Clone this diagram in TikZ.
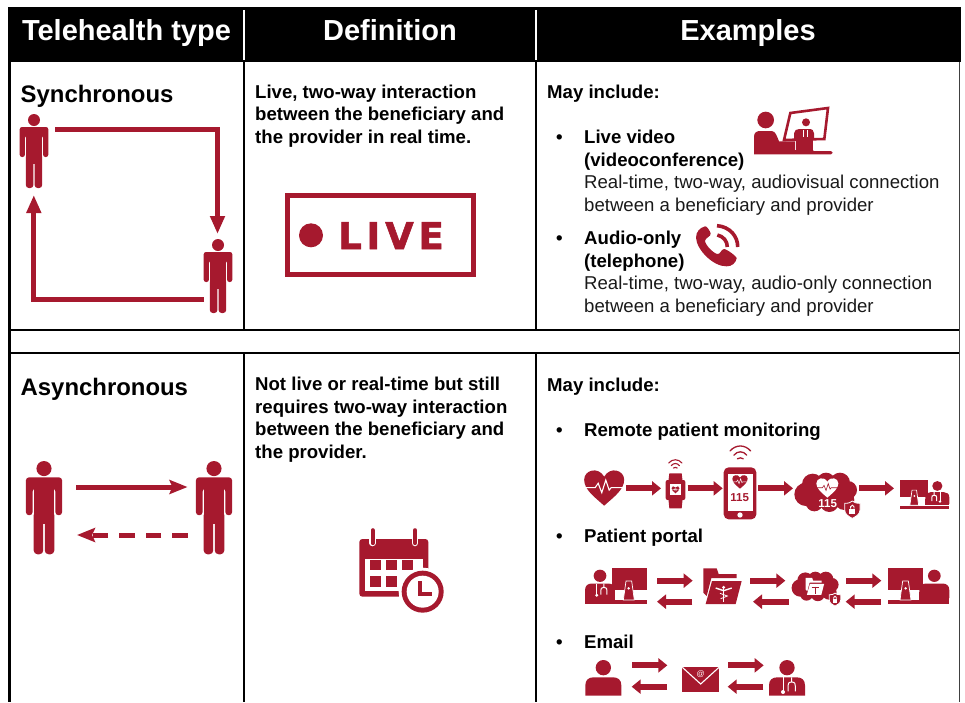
\documentclass[tikz,border=0pt]{standalone}
\usepackage{fontspec}
\setmainfont{Liberation Sans}
\newfontfamily\livefont[LetterSpace=13,FakeBold=1.5]{DejaVu Sans Bold}
\usetikzlibrary{arrows.meta}
\definecolor{rcol}{HTML}{A6192E}
\tikzset{
 gridline/.style={draw=black,line width=2.6pt},
 headtxt/.style={font=\fontsize{29}{32}\selectfont\bfseries,text=white,inner sep=0pt,anchor=base},
 titletxt/.style={font=\fontsize{23.9}{28}\selectfont\bfseries,inner sep=0pt,anchor=base west},
 boldtxt/.style={font=\fontsize{18.6}{22.5}\selectfont\bfseries,inner sep=0pt,anchor=base west,align=left},
 bodytxt/.style={font=\fontsize{18.6}{22.5}\selectfont,inner sep=0pt,anchor=base west,align=left,text=black!90},
 bigline/.style={draw=rcol,line width=5pt},
 bighead/.style={-{Triangle[width=14pt,length=18pt]}},
 chain/.style={draw=rcol,line width=6pt,-{Triangle[width=14pt,length=9pt]}},
 zm/.style 2 args={shift={(#1pt,-#2pt)},x=0.33333pt,y=-0.33333pt},
}
% full figure: s = scale, top of head at (#1,#2)
\newcommand\personfig[3]{\begin{scope}[shift={(#1pt,-#2pt)},x=#3pt,y=-#3pt]
 \fill[rcol] (0,6) circle[radius=6];
 \fill[rcol,rounded corners=#3*2.3pt] (-14.3,43)--(-14.3,13)--(14.3,13)--(14.3,43)--(9.1,43)--(9.1,22)--(-9.1,22)--(-9.1,43)--cycle;
 \fill[rcol] (-8.2,15) rectangle (8.2,50);
 \fill[rcol,rounded corners=#3*3pt] (-8.2,40)--(-8.2,74)--(-0.6,74)--(-0.6,40)--cycle;
 \fill[rcol,rounded corners=#3*3pt] (8.2,40)--(8.2,74)--(0.6,74)--(0.6,40)--cycle;
\end{scope}}
% heart, unit half-width
\newcommand\hrtpath{(0,1) .. controls (-.5,.55) and (-1,.2) .. (-1,-.3) .. controls (-1,-.78) and (-.3,-.98) .. (0,-.45) .. controls (.3,-.98) and (1,-.78) .. (1,-.3) .. controls (1,.2) and (.5,.55) .. (0,1) -- cycle}
\newcommand\hrt[4]{\fill[#4,shift={(#1,#2)},scale=#3] \hrtpath;}
\newcommand\ecg[4]{\draw[#4,shift={(#1,#2)},scale=#3,line join=miter] (-1,.1)--(-.45,.1)--(-.3,-.12)--(-.12,.35)--(.08,-.28)--(.25,.22)--(.35,.1)--(1,.1);}
% wifi: bottom centre
\newcommand\wifi[5]{\begin{scope}[shift={(#1,#2)},scale=#3]
 \draw[rcol,line width=#4pt,line cap=round] (-1,-.45) .. controls (-.45,-1.1) and (.45,-1.1) .. (1,-.45);
 \draw[rcol,line width=#4pt,line cap=round] (-.62,-.05) .. controls (-.3,-.48) and (.3,-.48) .. (.62,-.05);
 \draw[rcol,line width=#5pt,line cap=round] (-.28,.3) .. controls (-.1,.18) and (.1,.18) .. (.28,.3);
\end{scope}}
% bust: origin at top centre, 108 wide 107 high in zoom units
\newcommand\bustfig{\fill[rcol] (0,23) circle[radius=23];
 \fill[rcol] (-54,107) -- (-54,76) .. controls (-54,60) and (-44,52) .. (-30,52) -- (30,52) .. controls (44,52) and (54,60) .. (54,76) -- (54,107) -- cycle;}
\newcommand\docfig{\bustfig
 \draw[white,line width=1pt] (-12,52)--(-12,95);
 \fill[white] (-12,96) circle[radius=6];
 \draw[white,line width=1pt] (14,52)--(14,66) (14,66) .. controls (4,66) and (3,72) .. (3,78) -- (3,94) (14,66) .. controls (24,66) and (25,72) .. (25,78) -- (25,94);}
% desk with monitor; origin top-left of icon, person given as #2
\newcommand\deskicon[2]{\begin{scope}[#1]
 \fill[rcol] (80,0) rectangle (185,65);
 \fill[rcol] (0,70) rectangle (90,94);
 \begin{scope}[shift={(45,4)},xscale=.83,yscale=.8]#2\end{scope}
 \fill[rcol] (0,96) rectangle (185,107);
 \fill[rcol,draw=white,line width=.7pt] (123,38)--(140,38)--(148,95)--(115,95)--cycle;
 \fill[white] (131,60) circle[radius=4];
\end{scope}}
% cloud centred, zoom3 units
\newcommand\cloudfig{\fill[rcol] (0,0) ellipse[x radius=72,y radius=42]
 (-60,5) circle[radius=35] (-40,-25) circle[radius=32] (0,-32) circle[radius=28] (42,-30) circle[radius=30] (66,-8) circle[radius=27] (55,22) circle[radius=30] (10,30) circle[radius=28] (-35,30) circle[radius=26];}
\newcommand\shieldfig{\fill[rcol,draw=white,line width=.8pt] (-23,-18) .. controls (-10,-18) and (-5,-21) .. (0,-25) .. controls (5,-21) and (10,-18) .. (23,-18) -- (23,2) .. controls (23,15) and (10,22) .. (0,27) .. controls (-10,22) and (-23,15) .. (-23,2) -- cycle;
 \fill[white] (-9,-2) rectangle (9,13);
 \draw[white,line width=.9pt] (-5,-2) -- (-5,-8) .. controls (-5,-14) and (5,-14) .. (5,-8) -- (5,-2);}
\newcommand\folderfig{\fill[rcol] (400,25)--(440,25)--(446,42)--(500,42)--(500,54)--(424,54)--(410,108)--(400,98)--cycle;
 \fill[rcol] (426,63)--(515,63)--(497,132)--(407,132)--cycle;}
\newcommand\caduceus{\draw[white,line width=1.1pt] (461,80)--(461,125);
 \draw[white,line width=1.4pt] (437,84)--(461,92)--(485,84);
 \fill[white] (461,82) circle[radius=5];
 \draw[white,line width=.8pt] (450,100)--(472,108)--(452,116);}
\begin{document}
\begin{tikzpicture}[x=1pt,y=-1pt]
\useasboundingbox (0,0) rectangle (965,702);
%% table
\draw[gridline] (9.5,60)--(9.5,702)
 (8,330)--(960,330) (8,353)--(960,353)
 (244,60)--(244,330) (536,60)--(536,330)
 (244,353)--(244,702) (536,353)--(536,702);
\draw[draw=black!75,line width=1.8pt] (959.4,60)--(959.4,702);
\fill[black] (8,7) rectangle (961,62);
\draw[white,line width=2.6pt] (244,10)--(244,60) (536,10)--(536,60);
%% headers
\node[headtxt] (h1) at (126.5,40) {Telehealth type};
\node[headtxt] (h2) at (390,40) {Definition};
\node[headtxt] (h3) at (748,40) {Examples};
%% row 1 left
\node[titletxt] (syn) at (20.5,102.5) {Synchronous};
\personfig{34}{114}{1}
\personfig{218}{239}{1}
\coordinate (p1out) at (55,129);
\coordinate (p1corner) at (217.5,129);
\coordinate (p2in) at (217.5,234);
\coordinate (p2out) at (204,299.5);
\coordinate (p2corner) at (33.8,299.5);
\coordinate (p1in) at (33.8,195);
\draw[bigline,bighead] (p1out)--(p1corner)--(p2in);
\draw[bigline,bighead] (p2out)--(p2corner)--(p1in);
%% definition row 1
\node[boldtxt] (d1) at (255,143) {Live, two-way interaction\\between the beneficiary and\\the provider in real time.};
\draw[draw=rcol,line width=5pt] (287.3,195.5) rectangle (473.7,274.7);
\fill[rcol] (311,235.3) circle[radius=12];
\node[inner sep=0pt,anchor=base west,text=rcol,font=\fontsize{37}{40}\livefont] (live) at (338,249) {LIVE};
%% examples row 1
\node[boldtxt] (e1) at (547,98) {May include:};
\node[boldtxt] (b1) at (556,143) {•};
\node[boldtxt] (e2) at (584,166) {Live video\\(videoconference)};
\node[bodytxt] (e3) at (584,211) {Real-time, two-way, audiovisual connection\\between a beneficiary and provider};
\node[boldtxt] (b2) at (556,244) {•};
\node[boldtxt] (e4) at (584,267) {Audio-only\\(telephone)};
\node[bodytxt] (e5) at (584,312) {Real-time, two-way, audio-only connection\\between a beneficiary and provider};
%% video icon
\begin{scope}[zm={745}{100}]
 \fill[rcol] (62,60) circle[radius=25];
 \fill[rcol] (27,163)--(27,110) .. controls (27,98) and (35,93) .. (45,93) -- (80,93) .. controls (92,93) and (96,110) .. (102,124) -- (150,124) -- (150,150) -- (205,150) -- (205,153) -- (258,153) .. controls (265,156) and (265,161) .. (258,163) -- cycle;
 \fill[rcol] (152,115) rectangle (205,152);
 \fill[white,draw=rcol,line width=2.6pt] (136,39)--(249,24)--(238,117)--(117,120)--cycle;
 \fill[rcol] (183,67) circle[radius=12];
 \fill[rcol] (147,118)--(147,100) .. controls (147,91) and (155,87) .. (163,87) -- (192,87) .. controls (202,87) and (207,92) .. (207,100) -- (207,117)--cycle;
 \draw[white,line width=.5pt] (174,90)--(174,112) (188,90)--(188,112);
\end{scope}
%% phone
\begin{scope}[zm={570}{95}]
 \fill[rcol] (405,394) .. controls (390,398) and (378,410) .. (378,428) .. controls (380,465) and (430,515) .. (470,514) .. controls (485,514) and (497,505) .. (500,490) .. controls (500,484) and (470,462) .. (462,462) .. controls (452,464) and (452,478) .. (442,477) .. controls (430,475) and (406,450) .. (405,438) .. controls (405,428) and (424,425) .. (422,415) .. controls (420,408) and (410,392) .. (405,394) -- cycle;
 \draw[rcol,line width=3.6pt] (441,392) .. controls (480,395) and (504,425) .. (503,456);
 \draw[rcol,line width=3.6pt] (442,420) .. controls (460,424) and (472,438) .. (472,456);
\end{scope}
%% row 2 left
\node[titletxt] (asy) at (20.5,395) {Asynchronous};
\personfig{44}{461}{1.26}
\personfig{214}{461}{1.26}
\coordinate (a1) at (76,487);
\coordinate (a2) at (187.5,487);
\coordinate (a3) at (187.5,535);
\coordinate (a4) at (77,535);
\draw[draw=rcol,line width=5pt,-{Stealth[width=14pt,length=18pt,inset=3pt]}] (a1)--(a2);
\draw[draw=rcol,line width=5pt,dash pattern=on 15.5pt off 11pt,-{Stealth[width=14pt,length=18pt,inset=3pt]}] (a3)--(a4);
%% definition row 2
\node[boldtxt] (d2) at (255,458) {Not live or real-time but still\\requires two-way interaction\\between the beneficiary and\\the provider.};
%% calendar
\begin{scope}[zm={340}{515}]
 \fill[rcol,rounded corners=3pt] (58,72) rectangle (265,245);
 \fill[white] (75,132) rectangle (248,228);
 \draw[white,line width=6.5pt,line cap=round] (98,50)--(98,84) (225,50)--(225,84);
 \draw[rcol,line width=4.3pt,line cap=round] (98,46)--(98,84) (225,46)--(225,84);
 \foreach \qx in {90,138,185} \fill[rcol] (\qx,135) rectangle ++(33,31);
 \foreach \qx in {90,138} \fill[rcol] (\qx,182) rectangle ++(33,33);
 \fill[white] (248,230) circle[radius=72];
 \fill[rcol] (248,230) circle[radius=63];
 \fill[white] (248,230) circle[radius=48];
 \draw[rcol,line width=4.3pt,line join=miter] (240,198)--(240,238)--(277,238);
\end{scope}
%% examples row 2
\node[boldtxt] (e6) at (547,391) {May include:};
\node[boldtxt] (b3) at (556,436) {•};
\node[boldtxt] (e7) at (584,436) {Remote patient monitoring};
\node[boldtxt] (b4) at (556,542) {•};
\node[boldtxt] (e8) at (584,542) {Patient portal};
\node[boldtxt] (b5) at (556,648) {•};
\node[boldtxt] (e9) at (584,648) {Email};
%% monitoring chain
\begin{scope}[zm={570}{440}]
 \hrt{102.5}{137}{60}{rcol}
 \ecg{102.5}{137}{60}{white,line width=1.1pt}
 \coordinate (m1) at (168,145); \coordinate (m2) at (273,145);
 \coordinate (m3) at (353,145); \coordinate (m4) at (458,145);
 \coordinate (m5) at (565,145); \coordinate (m6) at (669,145);
 \coordinate (m7) at (867,145); \coordinate (m8) at (972,145);
 \draw[chain] (m1)--(m2); \draw[chain] (m3)--(m4); \draw[chain] (m5)--(m6); \draw[chain] (m7)--(m8);
 %% watch
 \fill[rcol] (298,100) -- (335,100) -- (338,125) -- (338,175) -- (335,205) -- (298,205) -- (295,175) -- (295,125) -- cycle;
 \fill[rcol,rounded corners=2pt] (287,120) rectangle (346,180);
 \fill[white] (300,133) rectangle (333,166);
 \hrt{316.5}{148}{12}{rcol}
 \ecg{316.5}{148}{12}{white,line width=.4pt}
 \wifi{316}{78}{20}{1.1}{1.1}
 %% phone
 \fill[rcol,rounded corners=5pt] (461,82) rectangle (559,238);
 \fill[white] (473,102) rectangle (548,212);
 \fill[white] (510,225) circle[radius=8];
 \hrt{510}{123}{23}{rcol}
 \ecg{510}{123}{23}{white,line width=.5pt}
 \node[inner sep=0pt,text=rcol,font=\fontsize{11.5}{12}\selectfont\bfseries,anchor=center] (n1) at (509,173) {115};
 \wifi{511}{47}{31}{1.3}{1.3}
 %% cloud
 \begin{scope}[shift={(768,158)}]\cloudfig\end{scope}
 \hrt{772}{140}{33}{white}
 \ecg{772}{140}{33}{rcol,line width=.6pt}
 \node[inner sep=0pt,text=white,font=\fontsize{11.5}{12}\selectfont\bfseries,anchor=center] (n2) at (773,192) {115};
 \begin{scope}[shift={(847,208)}]\shieldfig\end{scope}
 %% desk end
 \deskicon{shift={(990,120)},scale=.8,xscale=-1,shift={(-185,0)}}{\docfig}
\end{scope}
%% portal chain
\begin{scope}[zm={570}{560}]
 \deskicon{shift={(45,25)}}{\docfig}
 \coordinate (q1) at (262,62); \coordinate (q2) at (368,62);
 \coordinate (q3) at (367,125); \coordinate (q4) at (261,125);
 \coordinate (q5) at (541,62); \coordinate (q6) at (646,62);
 \coordinate (q7) at (656,125); \coordinate (q8) at (549,125);
 \coordinate (q9) at (828,62); \coordinate (q10) at (934,62);
 \coordinate (q11) at (933,125); \coordinate (q12) at (827,125);
 \draw[chain] (q1)--(q2); \draw[chain] (q3)--(q4);
 \draw[chain] (q5)--(q6); \draw[chain] (q7)--(q8);
 \draw[chain] (q9)--(q10); \draw[chain] (q11)--(q12);
 \folderfig
 \caduceus
 \begin{scope}[shift={(736,80)},scale=.75]\cloudfig\end{scope}
 \begin{scope}[shift={(736,80)},scale=.48,shift={(-460,-80)}]
  \fill[white] (400,25)--(440,25)--(446,42)--(500,42)--(500,54)--(424,54)--(410,108)--(400,98)--cycle;
  \fill[white] (426,63)--(515,63)--(497,132)--(407,132)--cycle;
  \draw[rcol,line width=1pt] (461,80)--(461,125) (437,85)--(485,85);
 \end{scope}
 \begin{scope}[shift={(795,118)},scale=.75]\shieldfig\end{scope}
 \deskicon{shift={(955,25)},xscale=-1,shift={(-183,0)}}{\bustfig}
 %% email
 \begin{scope}[shift={(100,300)}]\bustfig\end{scope}
 \coordinate (r1) at (186,316); \coordinate (r2) at (292,316);
 \coordinate (r3) at (291,380); \coordinate (r4) at (185,380);
 \coordinate (r5) at (474,316); \coordinate (r6) at (581,316);
 \coordinate (r7) at (580,380); \coordinate (r8) at (473,380);
 \draw[chain] (r1)--(r2); \draw[chain] (r3)--(r4);
 \draw[chain] (r5)--(r6); \draw[chain] (r7)--(r8);
 \fill[rcol] (337,320) rectangle (447,395);
 \draw[white,line width=1.1pt] (337,322)--(392,372)--(447,322);
 \node[inner sep=0pt,text=white,font=\fontsize{8}{9}\selectfont,anchor=center] (at) at (392,342) {@};
 \begin{scope}[shift={(651,300)}]\docfig\end{scope}
\end{scope}
\end{tikzpicture}
\end{document}
